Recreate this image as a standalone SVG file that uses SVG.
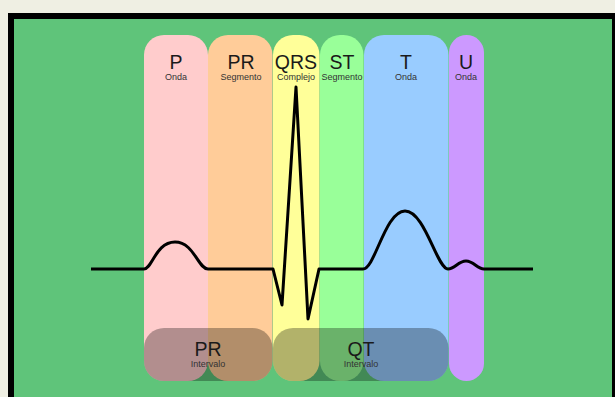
<svg xmlns="http://www.w3.org/2000/svg" width="615" height="397" viewBox="0 0 615 397">
  <defs>
    <style>
      .bar { stroke: none; }
      .big { font-family: "Liberation Sans", Arial, sans-serif; font-size: 19.5px; fill: #1a1a1a; text-anchor: middle; }
      .small { font-family: "Liberation Sans", Arial, sans-serif; font-size: 9px; fill: #333; text-anchor: middle; }
      .interval { fill: #000; fill-opacity: 0.3; }
      .trace { fill: none; stroke: #000; stroke-width: 3; stroke-linejoin: round; stroke-linecap: butt; }
    </style>
  </defs>

  <!-- page and frame -->
  <rect x="0" y="0" width="615" height="397" fill="#efefe3"/>
  <rect x="8" y="13" width="607" height="384" fill="#000"/>
  <rect x="14" y="19" width="598" height="378" fill="#5fc47a"/>

  <!-- wave segment bands -->
  <g id="band-p"><rect class="bar" x="144" y="35" width="64" height="346" rx="20" fill="#ffcccc"/>
    <text class="big" x="176" y="69">P</text><text class="small" x="176" y="80">Onda</text></g>
  <g id="band-pr"><rect class="bar" x="208" y="35" width="64.5" height="346" rx="20" fill="#ffcc99"/>
    <text class="big" x="241" y="69">PR</text><text class="small" x="241" y="80">Segmento</text></g>
  <g id="band-qrs"><rect class="bar" x="273" y="35" width="46.5" height="346" rx="20" fill="#ffff99"/>
    <text class="big" x="296" y="69">QRS</text><text class="small" x="296" y="80">Complejo</text></g>
  <g id="band-st"><rect class="bar" x="320" y="35" width="43.5" height="346" rx="20" fill="#99ff99"/>
    <text class="big" x="342" y="69">ST</text><text class="small" x="342" y="80">Segmento</text></g>
  <g id="band-t"><rect class="bar" x="364" y="35" width="84.5" height="346" rx="20" fill="#99ccff"/>
    <text class="big" x="406" y="69">T</text><text class="small" x="406" y="80">Onda</text></g>
  <g id="band-u"><rect class="bar" x="449" y="35" width="35" height="346" rx="17.5" fill="#cc99ff"/>
    <text class="big" x="466" y="69">U</text><text class="small" x="466" y="80">Onda</text></g>

  <!-- intervals -->
  <g id="interval-pr"><rect class="interval" x="144" y="328" width="128.5" height="53" rx="20"/>
    <text class="big" x="208" y="356">PR</text><text class="small" x="208" y="367">Intervalo</text></g>
  <g id="interval-qt"><rect class="interval" x="273" y="328" width="175.5" height="53" rx="20"/>
    <text class="big" x="361" y="356">QT</text><text class="small" x="361" y="367">Intervalo</text></g>

  <!-- ECG trace -->
  <g id="connectors">
    <path class="trace" d="M91 269 H144 C152 269 156 242 175 242 C194 242 198 269 208 269 H273 L282 305 L296 87 L308 319 L319 269 H363 C375 269 385 211 405 211 C425 211 437 269 448 269 C455 269 458 261 466 261 C474 261 477 269 484 269 H533"/>
  </g>
</svg>
